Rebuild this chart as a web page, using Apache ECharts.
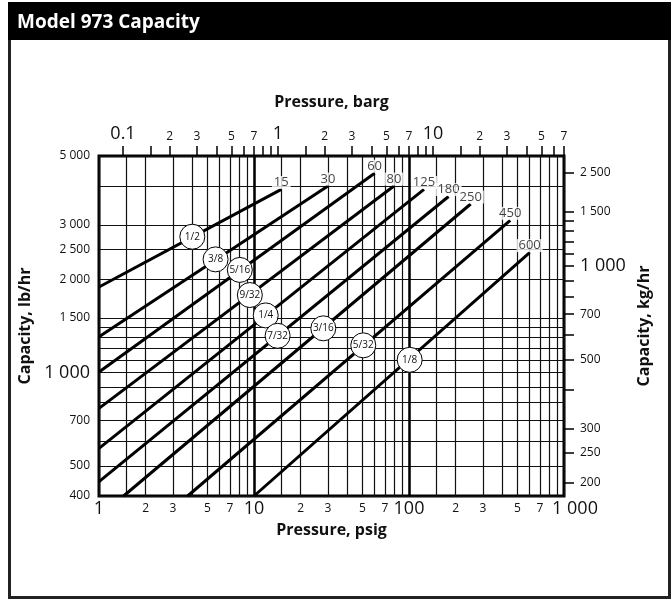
<!DOCTYPE html>
<html>
<head>
<meta charset="utf-8">
<title>Model 973 Capacity</title>
<script src="https://cdn.jsdelivr.net/npm/echarts@6.0.0/dist/echarts.min.js"></script>
<style>
  html, body { margin: 0; padding: 0; background: #fff; }
  #main { width: 672px; height: 600px; }
</style>
</head>
<body>
<div id="main"></div>
<script>
// each line runs from its start point up to its max pressure rating (psig)
var pressureRatings = [15, 30, 60, 80, 125, 180, 250, 450, 600];
var lineStartPsig = [1, 1, 1, 1, 1, 1, 1.44, 3.73, 10];
var lineStartLb = [1890, 1305, 1005, 767, 570, 445, 400, 400, 400];
var lineEndLb = [3900, 4000, 4400, 4000, 3900, 3700, 3500, 3100, 2440];

// orifice size bubbles sitting on the lines
var orificeSizes = ['1/2', '3/8', '5/16', '9/32', '1/4', '7/32', '3/16', '5/32', '1/8'];
var orificePsig = [4.0, 5.65, 8.1, 9.4, 11.9, 14.2, 28, 50.7, 101];
var orificeLb = [2745, 2320, 2145, 1780, 1530, 1315, 1390, 1225, 1100];

// axes
var psigGrid = [1, 1.5, 2, 3, 4, 5, 6, 7, 8, 9,
  10, 15, 20, 30, 40, 50, 60, 70, 80, 90,
  100, 150, 200, 300, 400, 500, 600, 700, 800, 900, 1000];
var psigLabels = [1, 2, 3, 5, 7, 10, 20, 30, 50, 70, 100, 200, 300, 500, 700, 1000];
var psigBold = [10, 100];
var bargTicks = [0.1, 0.15, 0.2, 0.3, 0.4, 0.5, 0.6, 0.7, 0.8, 0.9,
  1, 1.5, 2, 3, 4, 5, 6, 7, 8, 9,
  10, 15, 20, 30, 40, 50, 60, 70];
var bargLabels = [0.1, 0.2, 0.3, 0.5, 0.7, 1, 2, 3, 5, 7, 10, 20, 30, 50, 70];
var lbGrid = [400, 500, 600, 700, 800, 900, 1000, 1100, 1200, 1300, 1400, 1500, 2000, 2500, 3000, 4000, 5000];
var lbLabels = [400, 500, 700, 1000, 1500, 2000, 2500, 3000, 5000];
var kgTicks = [200, 250, 300, 400, 500, 600, 700, 800, 900, 1000, 1100, 1200, 1300, 1400, 1500, 2000];
var kgLabels = [200, 250, 300, 500, 700, 1000, 1500, 2000];
var kgLabelText = ['200', '250', '300', '500', '700', '1 000', '1 500', '2 500']; // as printed on the chart

var LB_TO_KG = 0.45359237;
var FONT = '"Open Sans", "Noto Sans", sans-serif';

function spaced(v) {
  return String(Math.round(v)).replace(/\B(?=(\d{3})+(?!\d))/g, ' ');
}
function isDecade(v) {
  var l = Math.log10(v);
  return Math.abs(l - Math.round(l)) < 1e-6;
}
function lead(v) {
  return String(Math.round(v / Math.pow(10, Math.floor(Math.log10(v) + 1e-9))));
}

var chart = echarts.init(document.getElementById('main'));

var nameStyle = { fontSize: 16, fontWeight: 'bold', color: '#111', fontFamily: FONT };
var gridLine = { color: '#111', width: 1.2 };

var series = [];
// heavier decade lines
series.push({
  type: 'line', data: [], silent: true,
  markLine: {
    silent: true, symbol: 'none', label: { show: false },
    lineStyle: { color: '#000', width: 2.5, type: 'solid' },
    data: psigBold.map(function (v) { return { xAxis: v }; })
  }
});
pressureRatings.forEach(function (p, i) {
  series.push({
    type: 'line', symbol: 'none', silent: true, z: 3,
    lineStyle: { color: '#000', width: 3 },
    data: [[lineStartPsig[i], lineStartLb[i]], [p, lineEndLb[i]]]
  });
});
// rating labels at the line ends
series.push({
  type: 'scatter', symbolSize: 1, silent: true, z: 4,
  itemStyle: { color: 'rgba(0,0,0,0)' },
  label: {
    show: true, position: 'top', distance: 0, formatter: '{b}',
    backgroundColor: '#fff', padding: [0, 2, 0, 2],
    fontSize: 13, color: '#111', fontFamily: FONT
  },
  data: pressureRatings.map(function (p, i) {
    return { name: String(p), value: [p, lineEndLb[i]] };
  })
});
series.push({
  type: 'scatter', symbol: 'circle', symbolSize: 25, silent: true, z: 5,
  itemStyle: { color: '#fff', borderColor: '#000', borderWidth: 1, opacity: 1 },
  label: { show: true, position: 'inside', formatter: '{b}', fontSize: 10, color: '#111', fontFamily: FONT },
  data: orificeSizes.map(function (s, i) {
    return { name: s, value: [orificePsig[i], orificeLb[i]] };
  })
});

var option = {
  animation: false,
  backgroundColor: '#fff',
  textStyle: { fontFamily: FONT },
  title: {
    text: 'Model 973 Capacity', left: 12, top: 8,
    textStyle: { color: '#fff', fontSize: 19, fontWeight: 'bold', fontFamily: FONT }
  },
  graphic: [
    { type: 'rect', z: -10, shape: { x: 9.5, y: 3.5, width: 660, height: 594 },
      style: { fill: '#fff', stroke: '#222', lineWidth: 3 } },
    { type: 'rect', z: -9, shape: { x: 8, y: 2, width: 663, height: 38 }, style: { fill: '#000' } }
  ],
  grid: {
    left: 99, right: 108, top: 156, bottom: 104,
    show: true, borderColor: '#000', borderWidth: 3, backgroundColor: 'transparent'
  },
  xAxis: [{
    type: 'log', logBase: 10, min: 1, max: 1000, position: 'bottom',
    name: 'Pressure, psig', nameLocation: 'middle', nameGap: 26, nameTextStyle: nameStyle,
    axisLine: { show: false },
    axisTick: { show: false, customValues: psigGrid },
    splitLine: { show: true, lineStyle: gridLine },
    axisLabel: {
      customValues: psigLabels, margin: 4, color: '#111',
      showMinLabel: true, showMaxLabel: true, hideOverlap: false,
      formatter: function (v) {
        if (v >= 1000) return '{bigr|' + spaced(v) + '}';
        return isDecade(v) ? '{big|' + spaced(v) + '}' : '{sm|' + lead(v) + '}';
      },
      rich: {
        big: { fontSize: 18, color: '#111', fontFamily: FONT },
        bigr: { fontSize: 18, color: '#111', fontFamily: FONT, padding: [0, 0, 0, 22] },
        sm: { fontSize: 12, color: '#111', fontFamily: FONT, padding: [3, 0, 0, 0] }
      }
    }
  }, {
    type: 'log', logBase: 10, min: 0.07, max: 70, position: 'top',
    name: 'Pressure, barg', nameLocation: 'middle', nameGap: 46, nameTextStyle: nameStyle,
    axisLine: { show: false },
    axisTick: { show: true, inside: false, length: 10, customValues: bargTicks, lineStyle: { color: '#000', width: 1.5 } },
    splitLine: { show: false },
    axisLabel: {
      customValues: bargLabels, margin: 13, color: '#111',
      showMinLabel: true, showMaxLabel: true, hideOverlap: false,
      formatter: function (v) { return isDecade(v) ? '{big|' + (v < 1 ? String(v) : spaced(v)) + '}' : '{sm|' + lead(v) + '}'; },
      rich: {
        big: { fontSize: 18, color: '#111', fontFamily: FONT },
        sm: { fontSize: 12, color: '#111', fontFamily: FONT }
      }
    }
  }],
  yAxis: [{
    type: 'log', logBase: 10, min: 400, max: 5000, position: 'left',
    name: 'Capacity, lb/hr', nameLocation: 'middle', nameGap: 59, nameRotate: 90, nameTextStyle: nameStyle,
    axisLine: { show: false },
    axisTick: { show: false, customValues: lbGrid },
    splitLine: { show: true, lineStyle: gridLine },
    axisLabel: {
      customValues: lbLabels, margin: 9, color: '#111',
      showMinLabel: true, showMaxLabel: true, hideOverlap: false,
      formatter: function (v) { return v === 1000 ? '{big|1 000}' : '{n|' + spaced(v) + '}'; },
      rich: {
        big: { fontSize: 18, color: '#111', fontFamily: FONT },
        n: { fontSize: 12, color: '#111', fontFamily: FONT }
      }
    }
  }, {
    type: 'log', logBase: 10, min: 400 * LB_TO_KG, max: 5000 * LB_TO_KG, position: 'right',
    name: 'Capacity, kg/hr', nameLocation: 'middle', nameGap: 71, nameRotate: 90, nameTextStyle: nameStyle,
    axisLine: { show: false },
    axisTick: { show: true, inside: false, length: 10, customValues: kgTicks, lineStyle: { color: '#000', width: 1.5 } },
    splitLine: { show: false },
    axisLabel: {
      customValues: kgLabels, margin: 16, color: '#111',
      showMinLabel: true, showMaxLabel: true, hideOverlap: false,
      formatter: function (v) {
        var t = kgLabelText[kgLabels.indexOf(Math.round(v))];
        return v === 1000 ? '{big|' + t + '}' : '{n|' + t + '}';
      },
      rich: {
        big: { fontSize: 18, color: '#111', fontFamily: FONT },
        n: { fontSize: 12, color: '#111', fontFamily: FONT }
      }
    }
  }],
  series: series
};

chart.setOption(option);
</script>
</body>
</html>
